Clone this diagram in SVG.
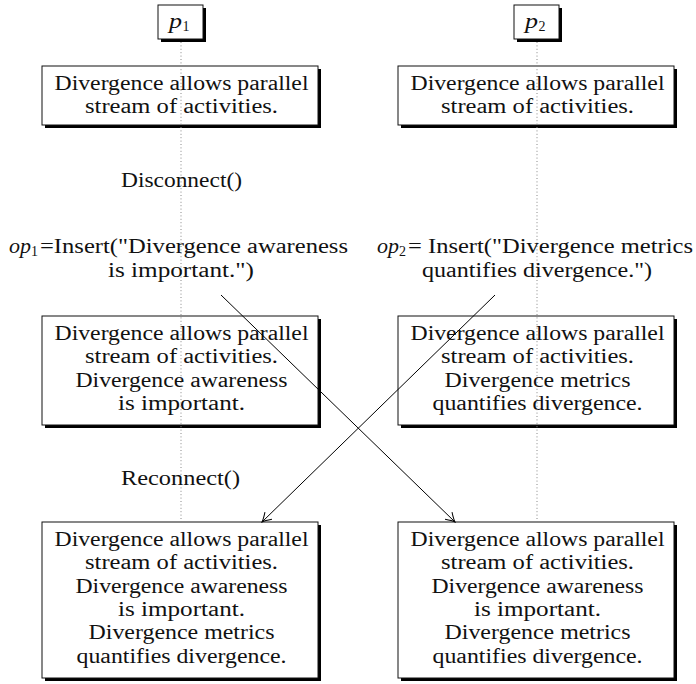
<svg xmlns="http://www.w3.org/2000/svg" width="696" height="684" viewBox="0 0 696 684">
<defs>
<style>
.bx{fill:#fff;stroke:#111;stroke-width:1}
.sh{fill:#000}
.t{font-family:"Liberation Serif","Times New Roman",serif;font-size:20px;fill:#111}
.it{font-style:italic}
.sub{font-size:14px}
.life{stroke:#888;stroke-width:1;stroke-dasharray:1 2.4;fill:none}
.arr{stroke:#000;stroke-width:1;fill:none}
</style>
<marker id="ah" markerUnits="userSpaceOnUse" markerWidth="16" markerHeight="16" viewBox="-12 -8 14 16" refX="0" refY="0" orient="auto">
<path d="M -9 -5 Q -3 -1 0 0 Q -3 1 -9 5" fill="none" stroke="#000" stroke-width="1"/>
</marker>
</defs>
<rect width="696" height="684" fill="#fff"/>

<g id="p1">
<rect class="sh" x="161" y="8" width="45" height="34"/>
<rect class="bx" x="158" y="5" width="45" height="34"/>
<text class="t it" x="169" y="28" textLength="13" lengthAdjust="spacingAndGlyphs">p</text><text class="t sub" x="182.5" y="31">1</text>
</g>
<g id="p2">
<rect class="sh" x="517" y="8" width="45" height="34"/>
<rect class="bx" x="514" y="5" width="45" height="34"/>
<text class="t it" x="525" y="28" textLength="13" lengthAdjust="spacingAndGlyphs">p</text><text class="t sub" x="538.5" y="31">2</text>
</g>

<g id="boxA">
<rect class="sh" x="45" y="69" width="276" height="59"/>
<rect class="bx" x="42" y="66" width="276" height="59"/>
<text class="t" x="54.5" y="90" textLength="254" lengthAdjust="spacingAndGlyphs">Divergence allows parallel</text>
<text class="t" x="85" y="113.3" textLength="193" lengthAdjust="spacingAndGlyphs">stream of activities.</text>
</g>
<g id="boxB">
<rect class="sh" x="401" y="69" width="276" height="59"/>
<rect class="bx" x="398" y="66" width="276" height="59"/>
<text class="t" x="410.5" y="90" textLength="254" lengthAdjust="spacingAndGlyphs">Divergence allows parallel</text>
<text class="t" x="441" y="113.3" textLength="193" lengthAdjust="spacingAndGlyphs">stream of activities.</text>
</g>

<g id="boxC">
<rect class="sh" x="45" y="319" width="276" height="109"/>
<rect class="bx" x="42" y="316" width="276" height="109"/>
<text class="t" x="54.5" y="340" textLength="254" lengthAdjust="spacingAndGlyphs">Divergence allows parallel</text>
<text class="t" x="85" y="363.3" textLength="193" lengthAdjust="spacingAndGlyphs">stream of activities.</text>
<text class="t" x="75.5" y="386.6" textLength="212" lengthAdjust="spacingAndGlyphs">Divergence awareness</text>
<text class="t" x="118" y="410" textLength="127" lengthAdjust="spacingAndGlyphs">is important.</text>
</g>
<g id="boxD">
<rect class="sh" x="401" y="319" width="276" height="109"/>
<rect class="bx" x="398" y="316" width="276" height="109"/>
<text class="t" x="410.5" y="340" textLength="254" lengthAdjust="spacingAndGlyphs">Divergence allows parallel</text>
<text class="t" x="441" y="363.3" textLength="193" lengthAdjust="spacingAndGlyphs">stream of activities.</text>
<text class="t" x="444.5" y="386.6" textLength="186" lengthAdjust="spacingAndGlyphs">Divergence metrics</text>
<text class="t" x="432.5" y="410" textLength="210" lengthAdjust="spacingAndGlyphs">quantifies divergence.</text>
</g>

<g id="boxE">
<rect class="sh" x="45" y="525" width="276" height="156"/>
<rect class="bx" x="42" y="522" width="276" height="156"/>
<text class="t" x="54.5" y="546" textLength="254" lengthAdjust="spacingAndGlyphs">Divergence allows parallel</text>
<text class="t" x="85" y="569.3" textLength="193" lengthAdjust="spacingAndGlyphs">stream of activities.</text>
<text class="t" x="75.5" y="592.6" textLength="212" lengthAdjust="spacingAndGlyphs">Divergence awareness</text>
<text class="t" x="118" y="616" textLength="127" lengthAdjust="spacingAndGlyphs">is important.</text>
<text class="t" x="88.5" y="639.3" textLength="186" lengthAdjust="spacingAndGlyphs">Divergence metrics</text>
<text class="t" x="76.5" y="662.6" textLength="210" lengthAdjust="spacingAndGlyphs">quantifies divergence.</text>
</g>
<g id="boxF">
<rect class="sh" x="401" y="525" width="276" height="156"/>
<rect class="bx" x="398" y="522" width="276" height="156"/>
<text class="t" x="410.5" y="546" textLength="254" lengthAdjust="spacingAndGlyphs">Divergence allows parallel</text>
<text class="t" x="441" y="569.3" textLength="193" lengthAdjust="spacingAndGlyphs">stream of activities.</text>
<text class="t" x="431.5" y="592.6" textLength="212" lengthAdjust="spacingAndGlyphs">Divergence awareness</text>
<text class="t" x="474" y="616" textLength="127" lengthAdjust="spacingAndGlyphs">is important.</text>
<text class="t" x="444.5" y="639.3" textLength="186" lengthAdjust="spacingAndGlyphs">Divergence metrics</text>
<text class="t" x="432.5" y="662.6" textLength="210" lengthAdjust="spacingAndGlyphs">quantifies divergence.</text>
</g>

<g id="connectors">
<line class="life" x1="181" y1="42" x2="181" y2="522"/>
<line class="life" x1="537" y1="42" x2="537" y2="522"/>
<line class="arr" x1="221" y1="295" x2="455" y2="522" marker-end="url(#ah)"/>
<line class="arr" x1="495" y1="295" x2="262" y2="522" marker-end="url(#ah)"/>
</g>

<g id="labels">
<text class="t" x="121" y="187" textLength="121" lengthAdjust="spacingAndGlyphs">Disconnect()</text>
<text class="t" x="121" y="485" textLength="119" lengthAdjust="spacingAndGlyphs">Reconnect()</text>
<text class="t it" x="9" y="253" textLength="22" lengthAdjust="spacingAndGlyphs">op</text>
<text class="t sub" x="31" y="256">1</text>
<text class="t" x="40" y="253" textLength="308" lengthAdjust="spacingAndGlyphs">=Insert("Divergence awareness</text>
<text class="t" x="108" y="277" textLength="146" lengthAdjust="spacingAndGlyphs">is important.")</text>
<text class="t it" x="377" y="253" textLength="22" lengthAdjust="spacingAndGlyphs">op</text>
<text class="t sub" x="399" y="256">2</text>
<text class="t" x="408" y="253" textLength="285" lengthAdjust="spacingAndGlyphs">= Insert("Divergence metrics</text>
<text class="t" x="422" y="277" textLength="230" lengthAdjust="spacingAndGlyphs">quantifies divergence.")</text>
</g>
</svg>
